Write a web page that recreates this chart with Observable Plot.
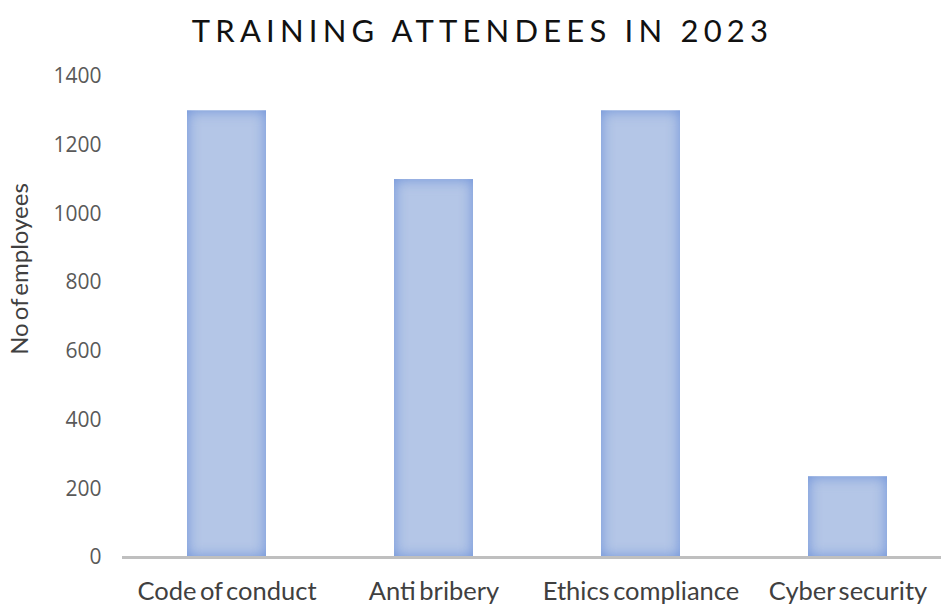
<!DOCTYPE html>
<html>
<head>
<meta charset="utf-8">
<script src="https://cdn.jsdelivr.net/npm/d3@7"></script>
<script src="https://cdn.jsdelivr.net/npm/@observablehq/plot@0.6"></script>
<style>
  html, body { margin: 0; padding: 0; background: #fff; }
  #title { height: 55px; box-sizing: border-box; padding-top: 15px; padding-left: 24px; text-align: center;
    font-family: Lato, "Open Sans", sans-serif; font-size: 31px; letter-spacing: 5.2px; line-height: 1; color: #111; }
  #chart svg { display: block; }
</style>
</head>
<body>
<div id="title">TRAINING ATTENDEES IN 2023</div>
<div id="chart"></div>
<script>
const categories = ["Code of conduct", "Anti bribery", "Ethics compliance", "Cyber security"];
const attendees = [1300, 1100, 1300, 235];
const yTicks = [0, 200, 400, 600, 800, 1000, 1200, 1400];
const yLabel = "No of employees";

const data = categories.map((c, i) => ({category: c, value: attendees[i]}));

const chart = Plot.plot({
  width: 941,
  height: 549,
  marginLeft: 122,
  marginRight: 0,
  marginTop: 21,
  marginBottom: 47,
  style: {background: "#fff", overflow: "visible"},
  x: {domain: categories, range: [121, 952], paddingInner: 0.62, paddingOuter: 0.31},
  y: {domain: [0, 1400]},
  marks: [
    Plot.barY(data, {x: "category", y: "value", fill: "#b4c6e7"}),
    Plot.ruleY([0], {stroke: "#bfbfbf", strokeWidth: 3}),
    Plot.axisY({ticks: yTicks, tickFormat: d => String(d), tickSize: 0, tickPadding: 21, label: null,
      fontSize: 21, fontFamily: "Open Sans, sans-serif", fill: "#595959"}),
    Plot.axisX({tickSize: 0, tickPadding: 24, label: null,
      fontSize: 25.5, fontFamily: "Lato, sans-serif", fill: "#404040"}),
    Plot.text([yLabel], {frameAnchor: "left", textAnchor: "middle", lineAnchor: "middle", rotate: -90,
      dx: -102, dy: -48, fontSize: 24, fontFamily: "Lato, sans-serif", fill: "#404040"})
  ]
});

// inner glow effect for bars
const ns = "http://www.w3.org/2000/svg";
const defs = document.createElementNS(ns, "defs");
defs.innerHTML = `
  <filter id="innerGlow" x="-20%" y="-20%" width="140%" height="140%" color-interpolation-filters="sRGB">
    <feFlood flood-color="#6e92d9" result="c"/>
    <feComposite in="c" in2="SourceAlpha" operator="out" result="outside"/>
    <feGaussianBlur in="outside" stdDeviation="7" result="blur"/>
    <feComposite in="blur" in2="SourceAlpha" operator="in" result="shadow"/>
    <feMerge><feMergeNode in="SourceGraphic"/><feMergeNode in="shadow"/></feMerge>
  </filter>`;
chart.insertBefore(defs, chart.firstChild);
chart.querySelectorAll('g[aria-label="bar"] rect').forEach(r => r.setAttribute("filter", "url(#innerGlow)"));
chart.querySelectorAll('g[aria-label="x-axis tick label"]').forEach(t => t.style.wordSpacing = "-3px");
chart.querySelectorAll('g[aria-label="text"]').forEach(t => t.style.wordSpacing = "-3px");

document.getElementById("chart").appendChild(chart);
</script>
</body>
</html>
